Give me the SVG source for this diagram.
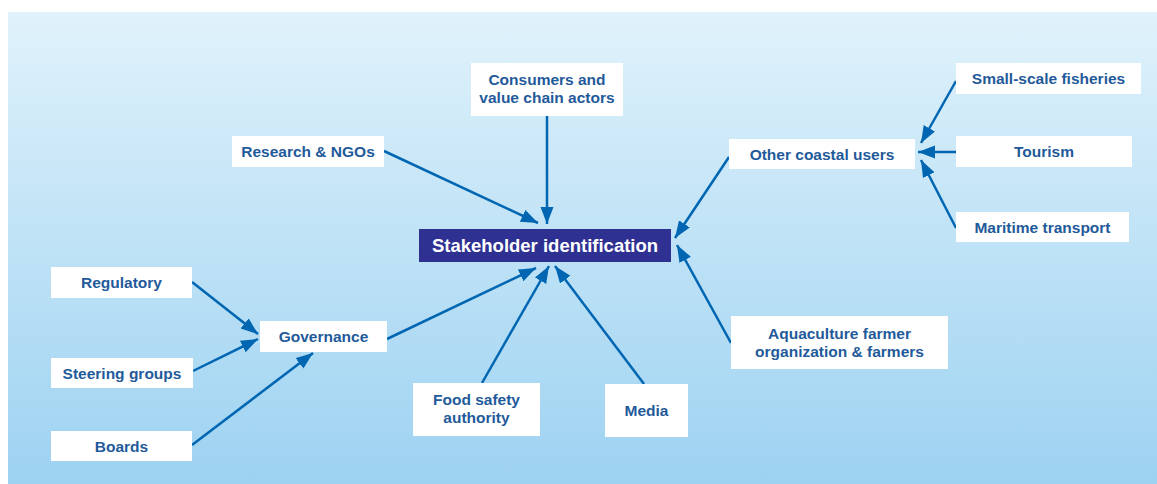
<svg xmlns="http://www.w3.org/2000/svg" width="1157" height="484" viewBox="0 0 1157 484">
<defs>
<linearGradient id="bg" x1="0" y1="0" x2="0" y2="1">
<stop offset="0" stop-color="#e0f2fb"/>
<stop offset="1" stop-color="#9dd2f1"/>
</linearGradient>
<marker id="ah" markerUnits="userSpaceOnUse" markerWidth="18" markerHeight="14" refX="17" refY="6.5" orient="auto">
<path d="M0,0 L17,6.5 L0,13 z" fill="#0066b2"/>
</marker>
<style>
.box{fill:#ffffff}
.t{font-family:"Liberation Sans",Arial,sans-serif;font-weight:bold;font-size:15.5px;fill:#1f5a9a;text-anchor:middle}
.main{fill:#2e3192}
.mt{font-family:"Liberation Sans",Arial,sans-serif;font-weight:bold;font-size:18.5px;fill:#ffffff;text-anchor:middle}
.c{stroke:#0066b2;stroke-width:2.5;fill:none;marker-end:url(#ah)}
</style>
</defs>
<rect x="8" y="12" width="1149" height="472" fill="url(#bg)"/>
<g id="connectors">
<line class="c" x1="384" y1="151" x2="538" y2="223"/>
<line class="c" x1="547" y1="116" x2="547" y2="224"/>
<line class="c" x1="729" y1="157" x2="675" y2="238"/>
<line class="c" x1="731" y1="343" x2="677" y2="245"/>
<line class="c" x1="387" y1="339" x2="536" y2="268"/>
<line class="c" x1="482" y1="383" x2="549" y2="266"/>
<line class="c" x1="644" y1="384" x2="555" y2="266"/>
<line class="c" x1="956" y1="81" x2="921" y2="143"/>
<line class="c" x1="956" y1="152" x2="918" y2="152"/>
<line class="c" x1="956" y1="228" x2="921" y2="160"/>
<line class="c" x1="192" y1="282" x2="258" y2="334"/>
<line class="c" x1="193" y1="371" x2="258" y2="339"/>
<line class="c" x1="192" y1="445" x2="313" y2="353"/>
</g>
<g id="stakeholder">
<rect class="main" x="419" y="229" width="252" height="33"/>
<text class="mt" x="545" y="252">Stakeholder identification</text>
</g>
<g id="research">
<rect class="box" x="232" y="136" width="152" height="31"/>
<text class="t" x="308" y="157">Research &amp; NGOs</text>
</g>
<g id="consumers">
<rect class="box" x="471" y="63" width="152" height="53"/>
<text class="t" x="547" y="85">Consumers and</text>
<text class="t" x="547" y="103">value chain actors</text>
</g>
<g id="other-coastal">
<rect class="box" x="729" y="139" width="186" height="30"/>
<text class="t" x="822" y="159.5">Other coastal users</text>
</g>
<g id="small-scale">
<rect class="box" x="956" y="63" width="185" height="31"/>
<text class="t" x="1048.5" y="84">Small-scale fisheries</text>
</g>
<g id="tourism">
<rect class="box" x="956" y="136" width="176" height="31"/>
<text class="t" x="1044" y="157">Tourism</text>
</g>
<g id="maritime">
<rect class="box" x="956" y="212" width="173" height="30"/>
<text class="t" x="1042.5" y="232.5">Maritime transport</text>
</g>
<g id="aquaculture">
<rect class="box" x="731" y="316" width="217" height="53"/>
<text class="t" x="839.5" y="339">Aquaculture farmer</text>
<text class="t" x="839.5" y="357">organization &amp; farmers</text>
</g>
<g id="governance">
<rect class="box" x="260" y="321" width="127" height="31"/>
<text class="t" x="323.5" y="342">Governance</text>
</g>
<g id="regulatory">
<rect class="box" x="51" y="267" width="141" height="31"/>
<text class="t" x="121.5" y="288">Regulatory</text>
</g>
<g id="steering">
<rect class="box" x="51" y="358" width="142" height="30"/>
<text class="t" x="122" y="378.5">Steering groups</text>
</g>
<g id="boards">
<rect class="box" x="51" y="431" width="141" height="30"/>
<text class="t" x="121.5" y="451.5">Boards</text>
</g>
<g id="food-safety">
<rect class="box" x="413" y="383" width="127" height="53"/>
<text class="t" x="476.5" y="405">Food safety</text>
<text class="t" x="476.5" y="423">authority</text>
</g>
<g id="media">
<rect class="box" x="605" y="384" width="83" height="53"/>
<text class="t" x="646.5" y="416">Media</text>
</g>
</svg>
